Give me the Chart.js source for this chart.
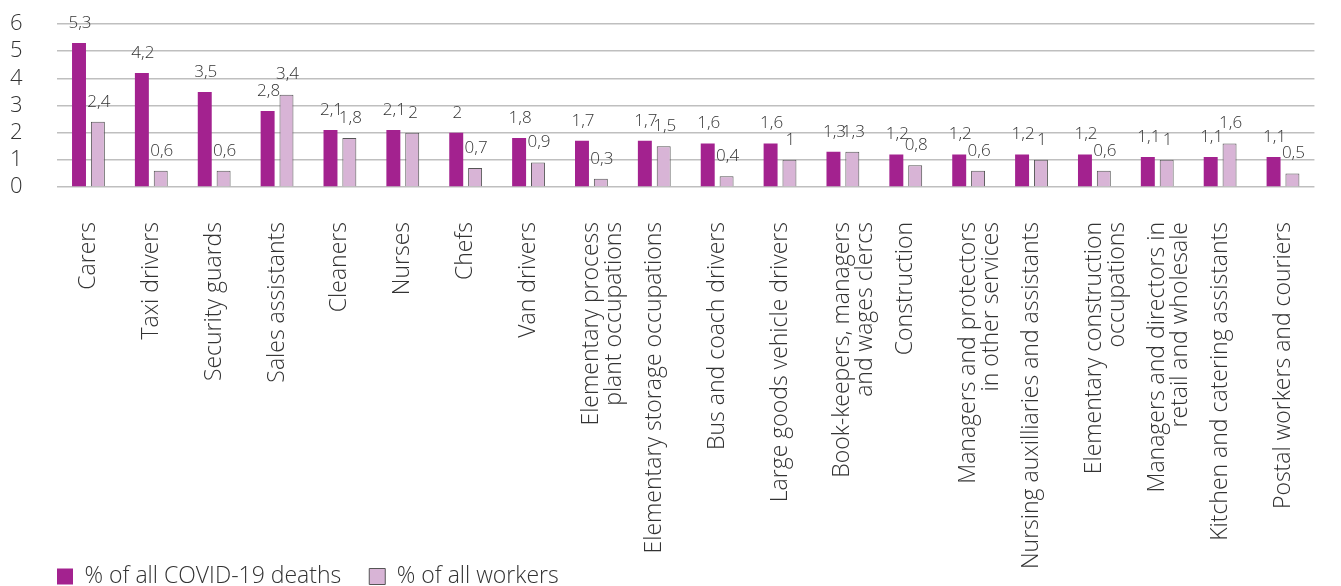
<!DOCTYPE html>
<html>
<head>
<meta charset="utf-8">
<script src="https://cdn.jsdelivr.net/npm/chart.js@4/dist/chart.umd.min.js"></script>
<style>
  html, body { margin: 0; padding: 0; background: #fff; }
  #wrap { width: 1341px; height: 586px; position: relative; }
</style>
</head>
<body>
<div id="wrap"><canvas id="occChart"></canvas></div>
<script>
// Occupations with highest share of COVID-19 deaths
const categories = [
    'Carers', 'Taxi drivers', 'Security guards', 'Sales assistants', 'Cleaners',
    'Nurses', 'Chefs', 'Van drivers', ['Elementary process', 'plant occupations'],
    'Elementary storage occupations', 'Bus and coach drivers', 'Large goods vehicle drivers',
    ['Book-keepers, managers', 'and wages clercs'], 'Construction',
    ['Managers and protectors', 'in other services'], 'Nursing auxilliaries and assistants',
    ['Elementary construction', 'occupations'], ['Managers and directors in', 'retail and wholesale'],
    'Kitchen and catering assistants', 'Postal workers and couriers'
];
const covidDeaths = [5.3, 4.2, 3.5, 2.8, 2.1, 2.1, 2, 1.8, 1.7, 1.7, 1.6, 1.6, 1.3, 1.2, 1.2, 1.2, 1.2, 1.1, 1.1, 1.1];
const allWorkers = [2.4, 0.6, 0.6, 3.4, 1.8, 2, 0.7, 0.9, 0.3, 1.5, 0.4, 1, 1.3, 0.8, 0.6, 1, 0.6, 1, 1.6, 0.5];

const FONT = "'Open Sans', sans-serif";
const TEXT = '#333333';

// Value labels above each bar, decimal comma
const barLabels = {
    id: 'barLabels',
    afterDatasetsDraw(chart) {
        const ctx = chart.ctx;
        ctx.save();
        ctx.font = '300 17px ' + FONT;
        ctx.fillStyle = TEXT;
        ctx.textAlign = 'center';
        ctx.textBaseline = 'middle';
        chart.data.datasets.forEach((ds, i) => {
            chart.getDatasetMeta(i).data.forEach((bar, j) => {
                const txt = String(ds.data[j]).replace('.', ',');
                ctx.fillText(txt, bar.x + 1, bar.y - 20);
            });
        });
        ctx.restore();
    }
};

// Legend takes no layout space; it sits under the rotated labels,
// lined up with the plot area
const legendShift = {
    id: 'legendShift',
    beforeLayout(chart) {
        const lg = chart.legend;
        if (!lg || lg._noSpace) return;
        const fit = lg.fit.bind(lg);
        lg.fit = function() {
            fit();
            this.height = 0;
        };
        lg._noSpace = true;
    },
    afterLayout(chart) {
        const lg = chart.legend;
        if (!lg) return;
        const pad = lg.options.labels.padding;
        lg.left = chart.chartArea.left - pad;
        lg.top = 565 - pad;
    }
};

new Chart(document.getElementById('occChart'), {
    type: 'bar',
    data: {
        labels: categories,
        datasets: [
            {
                label: '% of all COVID-19 deaths',
                data: covidDeaths,
                backgroundColor: '#A3228F',
                borderWidth: 0,
                categoryPercentage: 0.6,
                barPercentage: 0.74
            },
            {
                label: '% of all workers',
                data: allWorkers,
                backgroundColor: '#D8B4D6',
                borderColor: '#555555',
                borderWidth: 1,
                categoryPercentage: 0.6,
                barPercentage: 0.74
            }
        ]
    },
    options: {
        responsive: true,
        maintainAspectRatio: false,
        animation: false,
        layout: {
            padding: { top: 24, left: 10, right: 0, bottom: 0 }
        },
        plugins: {
            legend: {
                position: 'bottom',
                align: 'start',
                labels: {
                    boxWidth: 16,
                    boxHeight: 16,
                    padding: 28,
                    color: TEXT,
                    font: { family: FONT, size: 23, weight: '300' }
                }
            },
            tooltip: { enabled: false }
        },
        scales: {
            x: {
                grid: { display: false, drawTicks: false },
                border: { display: false },
                ticks: {
                    autoSkip: false,
                    minRotation: 90,
                    maxRotation: 90,
                    padding: 35,
                    color: TEXT,
                    font: { family: FONT, size: 23, weight: '300', lineHeight: 1.0 }
                },
                afterFit: function(scale) {
                    scale.height = 399;
                }
            },
            y: {
                min: 0,
                max: 6,
                grid: { color: '#bfbfbf', lineWidth: 1.5, drawTicks: false },
                border: { display: false },
                ticks: {
                    stepSize: 1,
                    autoSkip: false,
                    crossAlign: 'far',
                    padding: 0,
                    color: TEXT,
                    font: { family: FONT, size: 22, weight: '300' }
                },
                afterFit: function(scale) {
                    scale.width = 47;
                }
            }
        }
    },
    plugins: [barLabels, legendShift]
});
</script>
</body>
</html>
